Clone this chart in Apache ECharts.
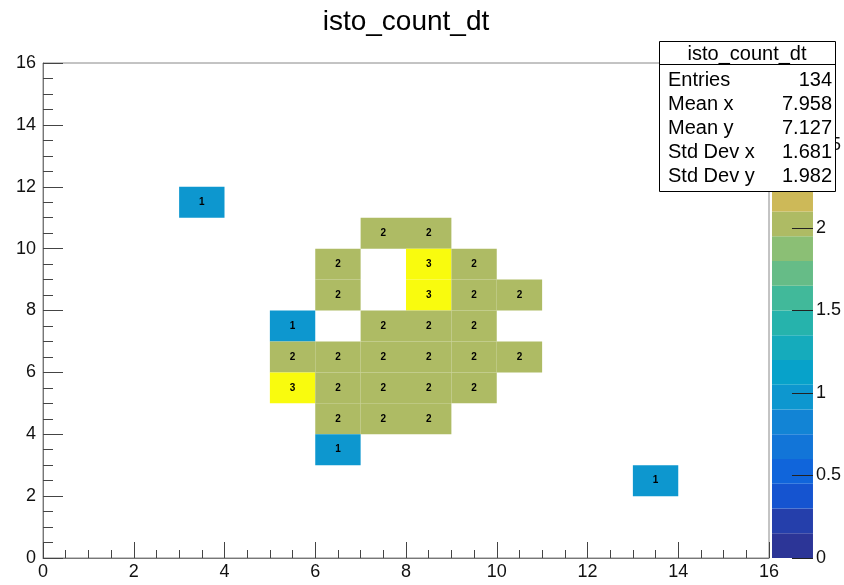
<!DOCTYPE html>
<html>
<head>
<meta charset="utf-8">
<script src="https://cdn.jsdelivr.net/npm/echarts@6/dist/echarts.min.js"></script>
<style>
html,body{margin:0;padding:0;background:#fff;}
#chart{width:844px;height:585px;}
</style>
</head>
<body>
<div id="chart"></div>
<script>
// ---- data ----
const cellX     = [3, 7, 8, 6, 8, 9, 6, 8, 9, 10, 5, 7, 8, 9, 5, 6, 7, 8, 9, 10, 5, 6, 7, 8, 9, 6, 7, 8, 6, 13];
const cellY     = [11, 10, 10, 9, 9, 9, 8, 8, 8, 8, 7, 7, 7, 7, 6, 6, 6, 6, 6, 6, 5, 5, 5, 5, 5, 4, 4, 4, 3, 2];
const cellValue = [1, 2, 2, 2, 3, 2, 2, 3, 2, 2, 1, 2, 2, 2, 2, 2, 2, 2, 2, 2, 3, 2, 2, 2, 2, 2, 2, 2, 1, 1];

const colorLevels = [0, 0.15, 0.3, 0.45, 0.6, 0.75, 0.9, 1.05, 1.2, 1.35, 1.5, 1.65, 1.8, 1.95, 2.1, 2.25, 2.4, 2.55, 2.7, 2.85, 3.0];

const titleText = 'isto_count_dt';
const statNames  = ['Entries', 'Mean x', 'Mean y', 'Std Dev x', 'Std Dev y'];
const statValues = ['134', '7.958', '7.127', '1.681', '1.982'];

// ---- style ----
const palette = ['#2c3597', '#253fab', '#1554d0', '#1065db', '#1275d8', '#1284d5', '#0d97cf', '#07a2ca',
                 '#15abbc', '#26b3ac', '#41b99a', '#66bc87', '#8bbf75', '#aebb64', '#cdb958', '#dfbf4d',
                 '#f0c63c', '#f9d12a', '#f6e21c', '#f9fb0e'];
const FONT = '"Liberation Sans", Arial, Helvetica, sans-serif';

function colorFor(v) {
  let idx = 0;
  for (let i = 0; i < colorLevels.length - 1; i++) if (v >= colorLevels[i]) idx = i;
  return palette[Math.min(idx, palette.length - 1)];
}

const cellData = cellX.map((x, i) => [x, cellY[i], cellValue[i]]);
const barData = palette.map((c, i) => [0.5, colorLevels[i], colorLevels[i + 1], i]);

const chart = echarts.init(document.getElementById('chart'), null, {renderer: 'canvas'});

const statGraphics = [];
statGraphics.push({type: 'rect', z: 100, shape: {x: 659.5, y: 41.5, width: 176, height: 150},
  style: {fill: '#fff', stroke: '#000', lineWidth: 1}});
statGraphics.push({type: 'line', z: 101, shape: {x1: 659.5, y1: 64.5, x2: 835.5, y2: 64.5},
  style: {stroke: '#000', lineWidth: 1}});
statGraphics.push({type: 'text', z: 101, style: {text: titleText, x: 747, y: 54, align: 'center',
  verticalAlign: 'middle', font: '20px ' + FONT, fill: '#000'}});
const rowY = [80, 104, 128, 152, 176];
statNames.forEach((n, i) => {
  statGraphics.push({type: 'text', z: 101, style: {text: n, x: 668, y: rowY[i], align: 'left',
    verticalAlign: 'middle', font: '20px ' + FONT, fill: '#000'}});
  statGraphics.push({type: 'text', z: 101, style: {text: statValues[i], x: 832, y: rowY[i], align: 'right',
    verticalAlign: 'middle', font: '20px ' + FONT, fill: '#000'}});
});

const option = {
  backgroundColor: '#fff',
  animation: false,
  grid: [
    {left: 43, top: 63, width: 726, height: 495, show: true, borderColor: '#888', borderWidth: 1, backgroundColor: 'transparent', z: 0},
    {left: 772, top: 63, width: 43, height: 495, show: false}
  ],
  xAxis: [
    {type: 'value', gridIndex: 0, min: 0, max: 16, interval: 2, z: 5,
      axisLine: {show: true, onZero: false, lineStyle: {color: '#777', width: 1}},
      axisTick: {show: true, inside: true, length: 16, lineStyle: {color: '#444'}},
      minorTick: {show: true, splitNumber: 4, length: 8, lineStyle: {color: '#444'}},
      splitLine: {show: false}, minorSplitLine: {show: false},
      axisLabel: {fontSize: 18, fontFamily: FONT, color: '#111', margin: 5, showMinLabel: true, showMaxLabel: true}},
    {type: 'value', gridIndex: 1, min: 0, max: 1, show: false}
  ],
  yAxis: [
    {type: 'value', gridIndex: 0, min: 0, max: 16, interval: 2, z: 5,
      axisLine: {show: true, onZero: false, lineStyle: {color: '#777', width: 1}},
      axisTick: {show: true, inside: true, length: 20, lineStyle: {color: '#444'}},
      minorTick: {show: true, splitNumber: 4, length: 10, lineStyle: {color: '#444'}},
      splitLine: {show: false}, minorSplitLine: {show: false},
      axisLabel: {fontSize: 18, fontFamily: FONT, color: '#111', margin: 7, showMinLabel: true, showMaxLabel: true}},
    {type: 'value', gridIndex: 1, min: 0, max: 3, interval: 0.5, position: 'right', z: 10,
      axisLine: {show: false, onZero: false},
      axisTick: {show: true, inside: true, length: 21, lineStyle: {color: '#222'}},
      splitLine: {show: false},
      axisLabel: {fontSize: 18, fontFamily: FONT, color: '#111', margin: 3, showMinLabel: true, showMaxLabel: true}}
  ],
  series: [
    {type: 'custom', xAxisIndex: 1, yAxisIndex: 1, data: barData, encode: {x: 0, y: [1, 2]}, z: 1,
      renderItem: function (params, api) {
        const lo = api.value(1), hi = api.value(2), i = api.value(3);
        const p0 = api.coord([0, hi]), p1 = api.coord([1, lo]);
        return {type: 'rect', shape: {x: p0[0], y: p0[1], width: p1[0] - p0[0], height: p1[1] - p0[1]},
          style: {fill: palette[i]}};
      }},
    {type: 'custom', xAxisIndex: 0, yAxisIndex: 0, data: cellData, encode: {x: 0, y: 1}, z: 2,
      renderItem: function (params, api) {
        const x = api.value(0), y = api.value(1), v = api.value(2);
        const p0 = api.coord([x, y + 1]), p1 = api.coord([x + 1, y]);
        return {type: 'group', children: [
          {type: 'rect', shape: {x: p0[0], y: p0[1], width: p1[0] - p0[0], height: p1[1] - p0[1]},
            style: {fill: colorFor(v)}},
          {type: 'text', style: {text: String(v), x: (p0[0] + p1[0]) / 2, y: (p0[1] + p1[1]) / 2,
            align: 'center', verticalAlign: 'middle', font: 'bold 10px ' + FONT, fill: '#000'}}
        ]};
      }}
  ],
  graphic: [
    {type: 'text', z: 100, style: {text: titleText, x: 406, y: 22, align: 'center', verticalAlign: 'middle',
      font: '28px ' + FONT, fill: '#000'}}
  ].concat(statGraphics)
};
chart.setOption(option);
</script>
</body>
</html>
